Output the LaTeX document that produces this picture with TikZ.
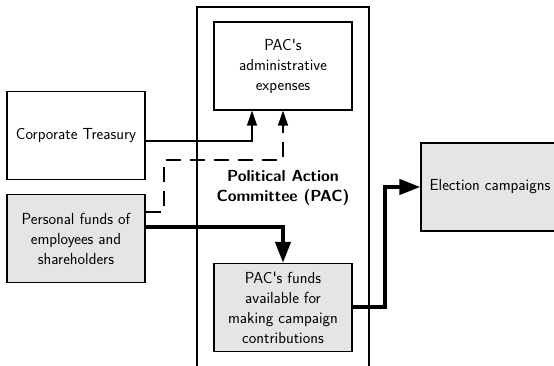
\documentclass[tikz,border=0pt]{standalone}
\usetikzlibrary{arrows.meta,calc}
\begin{document}
\begin{tikzpicture}[x=1pt,y=1pt,
  font=\sffamily\fontsize{16}{20}\selectfont,
  box/.style={draw,line width=1.2pt,minimum width=138pt,minimum height=88pt,align=center,inner sep=2pt},
  shaded/.style={box,fill=gray!20},
  thinflow/.style={line width=1.3pt,-{Triangle[width=10pt,length=15pt]}},
  thickflow/.style={line width=4pt,-{Triangle[width=15pt,length=21pt]}},
  dashflow/.style={thinflow,dash pattern=on 15pt off 9pt}]
\useasboundingbox (0,0) rectangle (554,366);
\clip (0,0) rectangle (554,366);

% Political Action Committee enclosure (open at the bottom)
\draw[line width=1.2pt] (197,-10) -- (197,359) -- (369,359) -- (369,-10);
\node[font=\sffamily\bfseries\fontsize{16}{20}\selectfont,align=center] (paclabel) at (283,178) {Political Action\\Committee (PAC)};

\node[box] (admin) at (283,300) {PAC\textquotesingle s\\administrative\\expenses};
\node[box] (corp) at (76,230.5) {Corporate Treasury};
\node[shaded] (personal) at (76,127.5) {Personal funds of\\employees and\\shareholders};
\node[shaded] (funds) at (283,58.5) {PAC\textquotesingle s funds\\available for\\making campaign\\contributions};
\node[shaded] (election) at (490,179) {Election campaigns};

\coordinate (dashbend) at (164,206);
\coordinate (elecbend) at (385,179);

% Flows of money
\draw[thinflow] ([yshift=-5.5pt]corp.east) -| ([xshift=-31pt]admin.south);
\draw[dashflow] ([yshift=26.5pt]personal.east) -| (dashbend) -| (admin.south);
\draw[thickflow] ([yshift=11.5pt]personal.east) -| (funds.north);
\draw[thickflow] (funds.east) -| (elecbend) -- (election.west);
\end{tikzpicture}
\end{document}
